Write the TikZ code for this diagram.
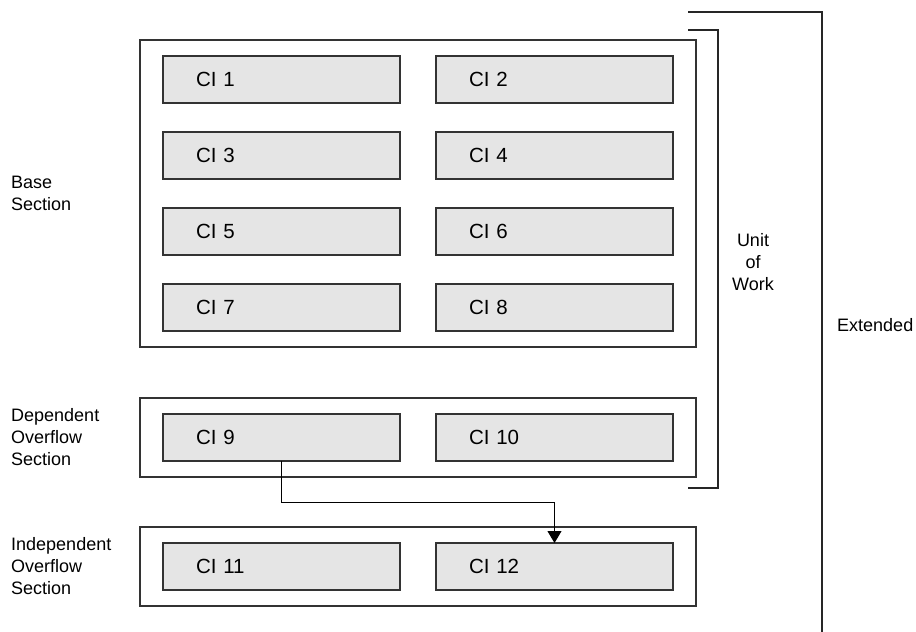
\documentclass[tikz,border=0pt]{standalone}
\usepackage{fontspec}
\setmainfont{Liberation Sans}
\usetikzlibrary{arrows.meta,positioning,fit,backgrounds}

\begin{document}
\begin{tikzpicture}[
  x=1pt,y=-1pt,
  ci/.style={rectangle,draw=black!80,line width=1.2pt,fill=black!10,minimum height=47pt,text width=171pt,inner xsep=33pt,inner ysep=0pt,outer sep=0pt,align=left,font=\fontsize{20.5}{24}\selectfont},
  sec/.style={rectangle,draw=black!80,line width=1.2pt,inner xsep=23pt,inner ysep=16pt},
  lbl/.style={align=left,inner sep=0pt,anchor=west,font=\fontsize{18}{22}\selectfont},
  brk/.style={draw=black!85,line width=1.2pt},
  ar/.style={-{Triangle[width=14pt,length=12pt]},line width=1pt}
]
\useasboundingbox (0,0) rectangle (916,632);

% base section
\node[ci] (ci1) at (281.5,79.5) {CI 1};
\node[ci,right=36pt of ci1] (ci2) {CI 2};
\node[ci,below=29pt of ci1] (ci3) {CI 3};
\node[ci,right=36pt of ci3] (ci4) {CI 4};
\node[ci,below=29pt of ci3] (ci5) {CI 5};
\node[ci,right=36pt of ci5] (ci6) {CI 6};
\node[ci,below=29pt of ci5] (ci7) {CI 7};
\node[ci,right=36pt of ci7] (ci8) {CI 8};

% overflow sections
\node[ci,below=83pt of ci7] (ci9) {CI 9};
\node[ci,right=36pt of ci9] (ci10) {CI 10};
\node[ci,below=82pt of ci9] (ci11) {CI 11};
\node[ci,right=36pt of ci11] (ci12) {CI 12};

\begin{scope}[on background layer]
  \node[sec,fit=(ci1)(ci8)] (base) {};
  \node[sec,fit=(ci9)(ci10)] (dep) {};
  \node[sec,fit=(ci11)(ci12)] (indep) {};
\end{scope}

\node[lbl] (baselbl) at (11,193.5) {Base\\Section};
\node[lbl] (deplbl) at (11,437.5) {Dependent\\Overflow\\Section};
\node[lbl] (indeplbl) at (11,566.5) {Independent\\Overflow\\Section};

\coordinate (bend) at (281.5,502);
\draw[ar] (ci9.south) -- (bend) -| (ci12.north);

% brackets
\draw[brk] (688,30) -| (718,488) -- (688,488);
\draw[brk] (688,12) -| (822,632);
\node[lbl,align=center,anchor=center] (uow) at (753,262) {Unit\\of\\Work};
\node[lbl] (ext) at (837,325) {Extended};
\end{tikzpicture}
\end{document}
